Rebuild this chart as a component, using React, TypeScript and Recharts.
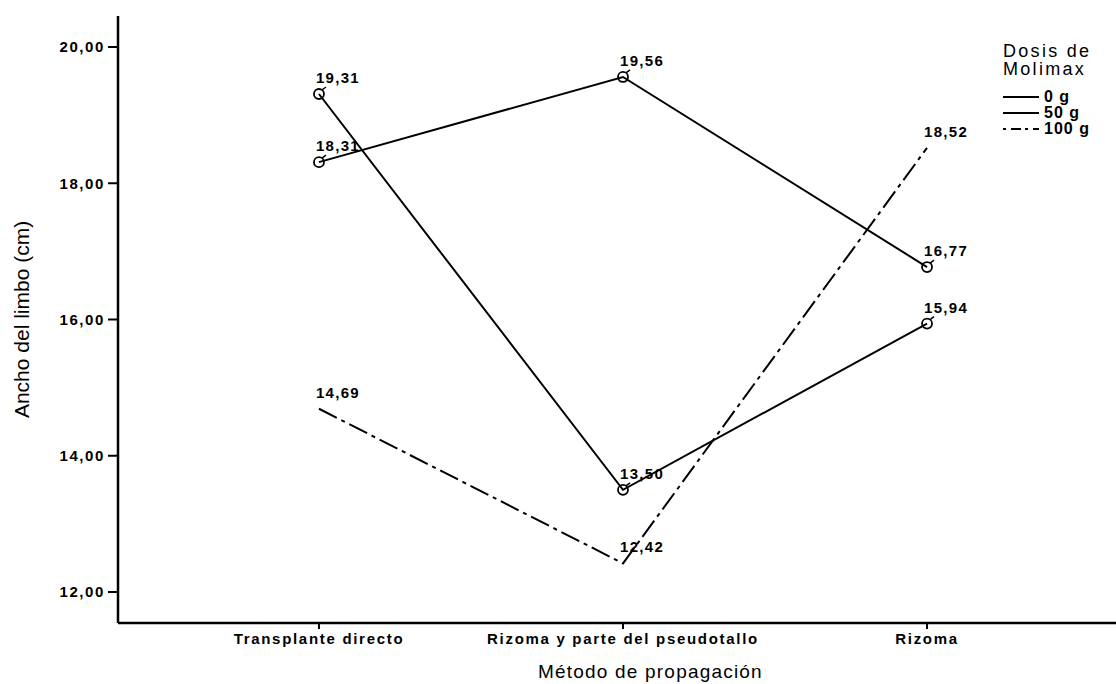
import { LineChart, Line, XAxis, YAxis, LabelList } from "recharts";

const categories = ["Transplante directo", "Rizoma y parte del pseudotallo", "Rizoma"];
const dose0 = [19.31, 13.5, 15.94];
const dose50 = [18.31, 19.56, 16.77];
const dose100 = [14.69, 12.42, 18.52];
const yTicks = [12, 14, 16, 18, 20];
const legendItems = [
  { name: "0 g", dash: undefined as string | undefined },
  { name: "50 g", dash: undefined as string | undefined },
  { name: "100 g", dash: "3 5 10 4" },
];

const data = categories.map((name, i) => ({
  x: i,
  name,
  d0: dose0[i],
  d50: dose50[i],
  d100: dose100[i],
}));

const fmt = (v: number) => v.toFixed(2).replace(".", ",");

const labelFont = {
  fontFamily: "Arial, 'Liberation Sans', sans-serif",
  fontSize: 15,
  fontWeight: 700,
  letterSpacing: 1.3,
  fill: "#000",
};

const ValueLabel = (props: any) => {
  const { x, y, value } = props;
  return (
    <text x={x - 3} y={y - 11} style={labelFont}>
      {fmt(value)}
    </text>
  );
};

const Ring = (props: any) => {
  const { cx, cy } = props;
  return (
    <g>
      <circle cx={cx} cy={cy} r={5} fill="none" stroke="#000" strokeWidth={1.8} />
      <line x1={cx + 3} y1={cy - 4} x2={cx + 7} y2={cy - 7} stroke="#000" strokeWidth={1.5} />
    </g>
  );
};

export default function App() {
  return (
    <div
      style={{
        position: "fixed",
        left: 0,
        top: 0,
        width: 1116,
        height: 684,
        overflow: "hidden",
        background: "#fff",
      }}
    >
      <LineChart
        width={1140}
        height={684}
        data={data}
        margin={{ top: 16, right: 12, left: 38, bottom: 0 }}
      >
        <XAxis
          dataKey="x"
          type="number"
          domain={[-0.661, 2.661]}
          ticks={[0, 1, 2]}
          tickFormatter={(v: number) => categories[v]}
          allowDataOverflow
          height={61}
          axisLine={{ stroke: "#000", strokeWidth: 2.5 }}
          tickLine={{ stroke: "#000", strokeWidth: 2 }}
          tickSize={6}
          tickMargin={4}
          tick={{ ...labelFont, letterSpacing: 1.7 }}
        />
        <XAxis
          xAxisId="top"
          dataKey="x"
          type="number"
          domain={[-0.661, 2.661]}
          orientation="top"
          height={0}
          tick={false}
          tickLine={false}
          axisLine={{ stroke: "#000", strokeWidth: 2.5 }}
        />
        <YAxis
          type="number"
          domain={[11.545, 20.455]}
          ticks={yTicks}
          allowDataOverflow
          width={80}
          tickFormatter={fmt}
          axisLine={{ stroke: "#000", strokeWidth: 2.5 }}
          tickLine={{ stroke: "#000", strokeWidth: 2 }}
          tickSize={10}
          tickMargin={3}
          tick={{ ...labelFont, letterSpacing: 1.6 }}
          label={{
            value: "Ancho del limbo (cm)",
            angle: -90,
            position: "left",
            offset: 16,
            style: {
              fontFamily: "'Liberation Sans Narrow', 'Arial Narrow', sans-serif",
              fontSize: 21,
              fill: "#000",
              textAnchor: "middle",
            },
          }}
        />
        <Line
          dataKey="d0"
          stroke="#000"
          strokeWidth={2}
          dot={<Ring />}
          activeDot={false}
          isAnimationActive={false}
        >
          <LabelList dataKey="d0" content={<ValueLabel />} />
        </Line>
        <Line
          dataKey="d50"
          stroke="#000"
          strokeWidth={2}
          dot={<Ring />}
          activeDot={false}
          isAnimationActive={false}
        >
          <LabelList dataKey="d50" content={<ValueLabel />} />
        </Line>
        <Line
          dataKey="d100"
          stroke="#000"
          strokeWidth={2}
          strokeDasharray="20 5 4 5"
          dot={false}
          activeDot={false}
          isAnimationActive={false}
        >
          <LabelList dataKey="d100" content={<ValueLabel />} />
        </Line>
      </LineChart>
      <div
        style={{
          position: "absolute",
          left: 538,
          top: 662,
          width: 224,
          textAlign: "center",
          whiteSpace: "nowrap",
          fontFamily: "Arial, 'Liberation Sans', sans-serif",
          fontSize: 19,
          lineHeight: "20px",
          letterSpacing: 1.2,
          color: "#000",
        }}
      >
        Método de propagación
      </div>
      <div
        style={{
          position: "absolute",
          left: 1003,
          top: 42,
          fontFamily: "Arial, 'Liberation Sans', sans-serif",
          color: "#000",
        }}
      >
        <div style={{ fontSize: 18, letterSpacing: 2.3, lineHeight: "18px" }}>Dosis de</div>
        <div style={{ fontSize: 18, letterSpacing: 2.3, lineHeight: "18px" }}>Molimax</div>
        <div style={{ marginTop: 11 }}>
          {legendItems.map((item) => (
            <div
              key={item.name}
              style={{
                display: "flex",
                alignItems: "center",
                height: 16,
                fontSize: 16,
                fontWeight: 700,
                letterSpacing: 1,
              }}
            >
              <svg width={38} height={6} style={{ marginRight: 3 }}>
                <line
                  x1={0}
                  y1={3}
                  x2={36}
                  y2={3}
                  stroke="#000"
                  strokeWidth={2}
                  strokeDasharray={item.dash}
                />
              </svg>
              <span>{item.name}</span>
            </div>
          ))}
        </div>
      </div>
    </div>
  );
}
